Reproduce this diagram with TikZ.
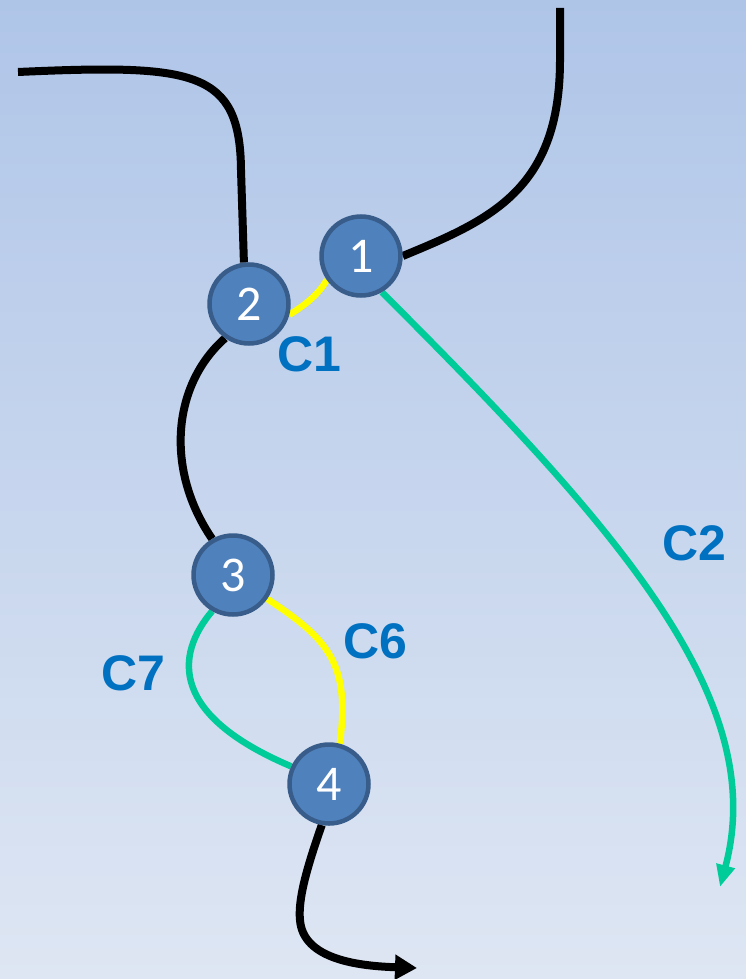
\documentclass[tikz,border=0pt]{standalone}
\usepackage{fontspec}
\setmainfont{Liberation Sans}
\newfontfamily\numfont{Carlito}
\usetikzlibrary{arrows.meta}
\pgfdeclarelayer{bg}
\pgfdeclarelayer{edges}
\pgfsetlayers{bg,edges,main}
\definecolor{bgtop}{RGB}{175,197,232}
\definecolor{bgbot}{RGB}{222,230,243}
\definecolor{nodefill}{RGB}{79,129,189}
\definecolor{nodeedge}{RGB}{56,93,138}
\definecolor{lblue}{RGB}{0,112,192}
\definecolor{cgreen}{RGB}{0,204,153}
\definecolor{cyellow}{RGB}{255,255,0}
\tikzset{
  stnode/.style={circle, fill=nodefill, draw=nodeedge, line width=4.5pt, minimum size=79pt, inner sep=0pt,
    text=white, font=\numfont\fontsize{50}{50}\selectfont},
  clabel/.style={text=lblue, font=\bfseries\fontsize{50}{50}\selectfont, inner sep=0pt},
  blk/.style={line width=8pt, black},
  grn/.style={line width=6.5pt, cgreen},
  ylw/.style={line width=6.5pt, cyellow},
}
\begin{document}
\begin{tikzpicture}[x=1pt,y=-1pt]
\begin{pgfonlayer}{bg}
\shade[top color=bgtop, bottom color=bgbot] (0,0) rectangle (746,979);
\end{pgfonlayer}
\useasboundingbox (0,0) rectangle (746,979);
\node[stnode] (n1) at (361,256) {1};
\node[stnode] (n2) at (249,304) {2};
\node[stnode] (n3) at (233,575) {3};
\node[stnode] (n4) at (329,784) {4};
\coordinate (s1) at (18,72);
\coordinate (s2) at (560,8);
\coordinate (e1) at (720,887);
\coordinate (e2) at (417,968);
\begin{pgfonlayer}{edges}
\draw[blk] (s1) .. controls (195,64) and (240,70) .. (241,170) -- (n2.97);
\draw[blk] (s2) -- (560,60) .. controls (560,190) and (490,220) .. (n1.east);
\draw[blk] (n2.235) .. controls (172,385) and (165,470) .. (n3.120);
\draw[blk,-{Triangle[length=22pt,width=24pt]}] (n4.260) .. controls (306,870) and (298,900) .. (300,920) .. controls (303,960) and (360,966) .. (e2);
\draw[ylw] (n2.-15) .. controls (305,305) and (318,295) .. (n1.215);
\draw[grn,-{Triangle[length=22pt,width=18pt]}] (n1.-60) .. controls (620,530) and (770,700) .. (e1);
\draw[ylw] (n3.-35) .. controls (330,640) and (350,665) .. (n4.75);
\draw[grn] (n3.240) .. controls (175,655) and (170,715) .. (n4.155);
\end{pgfonlayer}
\node[clabel] (c1) at (309,354) {C1};
\node[clabel] (c2) at (694,543) {C2};
\node[clabel] (c6) at (375,641) {C6};
\node[clabel] (c7) at (133,673) {C7};
\end{tikzpicture}
\end{document}
